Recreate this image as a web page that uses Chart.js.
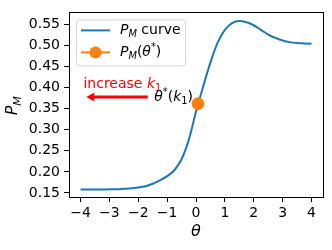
<!DOCTYPE html>
<html>
<head>
<meta charset="utf-8">
<script src="https://cdn.jsdelivr.net/npm/chart.js@4"></script>
<style>
  html, body { margin: 0; padding: 0; background: #fff; }
  #wrap { width: 332px; height: 250px; }
</style>
</head>
<body>
<div id="wrap"><canvas id="chart" width="332" height="250"></canvas></div>
<script>
// curve
var thetaVals = [-4, -3.75, -3.5, -3.25, -3, -2.75, -2.5, -2.25, -2, -1.75, -1.5, -1.25, -1, -0.75, -0.5, -0.25,
                 0, 0.25, 0.5, 0.75, 1, 1.25, 1.5, 1.75, 2, 2.25, 2.5, 2.75, 3, 3.25, 3.5, 3.75, 4];
var pmVals = [0.158, 0.158, 0.158, 0.158, 0.159, 0.159, 0.160, 0.161, 0.163, 0.166, 0.172, 0.180, 0.190, 0.204, 0.230, 0.276,
              0.343, 0.403, 0.460, 0.507, 0.537, 0.553, 0.558, 0.555, 0.548, 0.537, 0.526, 0.518, 0.512, 0.508, 0.506, 0.505, 0.504];
var thetaStar = [0.07];
var pmStar = [0.362];
var xTicks = [-4, -3, -2, -1, 0, 1, 2, 3, 4];
var yTicks = [0.15, 0.20, 0.25, 0.30, 0.35, 0.40, 0.45, 0.50, 0.55];

var BLUE = '#1f77b4', ORANGE = '#ff7f0e', RED = '#ff0000';
var FONT = "'DejaVu Sans', sans-serif";

// draw pieces of text: {t, it, sub, sup}
function richText(ctx, parts, x, y, size, color, align) {
  function fontOf(p) {
    var s = (p.sub || p.sup) ? size * 0.7 : size;
    return (p.it ? 'italic ' : '') + s + 'px ' + FONT;
  }
  var total = 0;
  parts.forEach(function(p) { ctx.font = fontOf(p); total += ctx.measureText(p.t).width; });
  var cx = align === 'right' ? x - total : (align === 'center' ? x - total / 2 : x);
  ctx.fillStyle = color;
  ctx.textBaseline = 'middle';
  ctx.textAlign = 'left';
  parts.forEach(function(p) {
    ctx.font = fontOf(p);
    var dy = p.sub ? size * 0.3 : (p.sup ? -size * 0.35 : 0);
    ctx.fillText(p.t, cx, y + dy);
    cx += ctx.measureText(p.t).width;
  });
}

var extras = {
  id: 'extras',
  afterDraw: function(chart) {
    var ctx = chart.ctx, a = chart.chartArea;
    var xs = chart.scales.x, ys = chart.scales.y;
    ctx.save();
    // frame
    ctx.strokeStyle = '#000';
    ctx.lineWidth = 1;
    ctx.strokeRect(Math.round(a.left) + 0.5, Math.round(a.top) + 0.5, Math.round(a.right - a.left), Math.round(a.bottom - a.top));

    // arrow
    var ay = ys.getPixelForValue(0.378);
    var ax0 = xs.getPixelForValue(-1.67), ax1 = xs.getPixelForValue(-3.8);
    ctx.strokeStyle = RED; ctx.fillStyle = RED; ctx.lineWidth = 3;
    ctx.beginPath(); ctx.moveTo(ax0, ay); ctx.lineTo(ax1 + 6, ay); ctx.stroke();
    ctx.beginPath(); ctx.moveTo(ax1, ay); ctx.lineTo(ax1 + 8, ay - 4.5); ctx.lineTo(ax1 + 8, ay + 4.5); ctx.closePath(); ctx.fill();

    richText(ctx, [{t: 'increase '}, {t: 'k', it: true}, {t: '1', sub: true}],
      xs.getPixelForValue(-3.9), ys.getPixelForValue(0.408), 14, RED, 'left');
    richText(ctx, [{t: 'θ', it: true}, {t: '*', sup: true}, {t: '('}, {t: 'k', it: true}, {t: '1', sub: true}, {t: ')'}],
      xs.getPixelForValue(thetaStar[0]) - 5, ys.getPixelForValue(0.377), 14, '#000', 'right');

    // legend
    var lx = a.left + 7, ly = a.top + 7, lw = 109, lh = 46;
    ctx.fillStyle = 'rgba(255,255,255,0.8)';
    ctx.strokeStyle = '#d6d6d6'; ctx.lineWidth = 1;
    ctx.beginPath();
    ctx.roundRect(lx + 0.5, ly + 0.5, lw, lh, 3);
    ctx.fill(); ctx.stroke();
    var r1 = ly + 11, r2 = ly + 33;
    ctx.lineWidth = 2; ctx.strokeStyle = BLUE;
    ctx.beginPath(); ctx.moveTo(lx + 5, r1); ctx.lineTo(lx + 34, r1); ctx.stroke();
    richText(ctx, [{t: 'P', it: true}, {t: 'M', it: true, sub: true}, {t: ' curve'}], lx + 44, r1, 14, '#000', 'left');
    ctx.strokeStyle = ORANGE;
    ctx.beginPath(); ctx.moveTo(lx + 5, r2); ctx.lineTo(lx + 34, r2); ctx.stroke();
    ctx.fillStyle = ORANGE;
    ctx.beginPath(); ctx.arc(lx + 19.5, r2, 6, 0, Math.PI * 2); ctx.fill();
    richText(ctx, [{t: 'P', it: true}, {t: 'M', it: true, sub: true}, {t: '('}, {t: 'θ', it: true}, {t: '*', sup: true}, {t: ')'}],
      lx + 44, r2, 14, '#000', 'left');

    // axis titles
    richText(ctx, [{t: 'θ', it: true}], (a.left + a.right) / 2, 232, 16, '#000', 'center');
    ctx.translate(13, (a.top + a.bottom) / 2 + 1);
    ctx.rotate(-Math.PI / 2);
    richText(ctx, [{t: 'P', it: true}, {t: 'M', it: true, sub: true}], 0, 0, 16, '#000', 'center');
    ctx.restore();
  }
};

var curve = thetaVals.map(function(t, i) { return {x: t, y: pmVals[i]}; });
var star = thetaStar.map(function(t, i) { return {x: t, y: pmStar[i]}; });

new Chart(document.getElementById('chart').getContext('2d'), {
  type: 'scatter',
  data: {
    datasets: [{
      label: 'P_M(θ*)',
      data: star,
      backgroundColor: ORANGE,
      borderColor: ORANGE,
      pointRadius: 6,
      showLine: false
    }, {
      label: 'P_M curve',
      data: curve,
      borderColor: BLUE,
      borderWidth: 2,
      pointRadius: 0,
      showLine: true,
      cubicInterpolationMode: 'monotone'
    }]
  },
  options: {
    responsive: false,
    animation: false,
    layout: { padding: { left: 0, right: 9, top: 8, bottom: 0 } },
    plugins: { legend: { display: false }, tooltip: { enabled: false } },
    scales: {
      x: {
        type: 'linear', min: -4.4, max: 4.4,
        afterBuildTicks: function(s) { s.ticks = xTicks.map(function(v) { return {value: v}; }); },
        afterFit: function(s) { s.height = 53; },
        grid: { drawOnChartArea: false, tickLength: 5, tickColor: '#000', color: '#000' },
        border: { color: '#000' },
        ticks: {
          color: '#000', font: { family: FONT, size: 14 }, padding: 3, maxRotation: 0,
          callback: function(v) { return String(v).replace('-', '\u2212'); }
        }
      },
      y: {
        type: 'linear', min: 0.1405, max: 0.5785,
        afterBuildTicks: function(s) { s.ticks = yTicks.map(function(v) { return {value: v}; }); },
        afterFit: function(s) { s.width = 69; },
        grid: { drawOnChartArea: false, tickLength: 5, tickColor: '#000', color: '#000' },
        border: { color: '#000' },
        ticks: {
          color: '#000', font: { family: FONT, size: 14 }, padding: 4,
          callback: function(v) { return v.toFixed(2); }
        }
      }
    }
  },
  plugins: [extras]
});
</script>
</body>
</html>
